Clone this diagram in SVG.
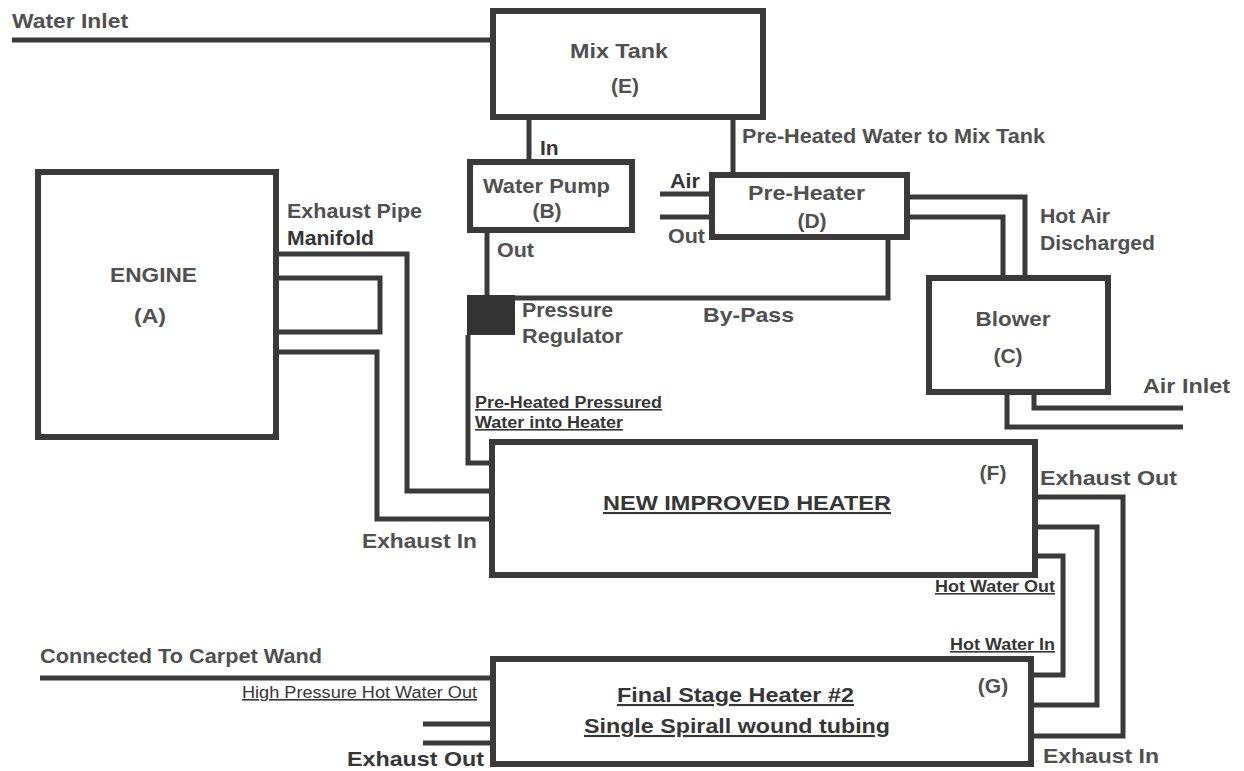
<svg xmlns="http://www.w3.org/2000/svg" width="1244" height="771" viewBox="0 0 1244 771">
<style>
.t{font-family:"Liberation Sans",Arial,sans-serif;font-weight:bold;font-size:21px;fill:#505050}
.d{fill:#363636}
.s{font-size:16px;text-decoration:underline}
.u{text-decoration:underline}
.n{font-weight:normal}
.m{text-anchor:middle}
.box{fill:#fff;stroke:#3a3a3a;stroke-width:6}
.pipe{fill:none;stroke:#3a3a3a;stroke-width:5}
</style>
<rect width="1244" height="771" fill="#fff"/>
<g id="connectors">
<path class="pipe" d="M12 40H493"/>
<path class="pipe" d="M529 117V162"/>
<path class="pipe" d="M733 117V175"/>
<path class="pipe" d="M660 194H712M660 217H712"/>
<path class="pipe" d="M907 197H1025V278M907 217H1003V278"/>
<path class="pipe" d="M1034 392V408H1183M1007 392V427H1183"/>
<path class="pipe" d="M487 230V295"/>
<path class="pipe" d="M515 298H888V237"/>
<path class="pipe" d="M468 335V463H492"/>
<path class="pipe" d="M276 254H407V491H492"/>
<path class="pipe" d="M276 278H380V332H276"/>
<path class="pipe" d="M276 352H377V519H492"/>
<path class="pipe" d="M1035 497H1123V736H1031M1035 527H1097V705H1031M1035 556H1063V675H1031"/>
<path class="pipe" d="M40 678H493"/>
<path class="pipe" d="M423 724H493M423 743H493"/>
</g>
<g id="mix-tank">
<rect class="box" x="493" y="11" width="270" height="106"/>
<text class="t" x="570" y="58" font-size="22" textLength="98" lengthAdjust="spacingAndGlyphs">Mix Tank</text>
<text class="t m" x="625" y="93" font-size="22">(E)</text>
</g>
<g id="water-pump">
<rect class="box" x="470" y="162" width="162" height="68"/>
<text class="t" x="483" y="193" textLength="127" lengthAdjust="spacingAndGlyphs">Water Pump</text>
<text class="t m" x="547" y="218">(B)</text>
</g>
<g id="pre-heater">
<rect class="box" x="712" y="175" width="195" height="62"/>
<text class="t" x="748" y="200" textLength="117" lengthAdjust="spacingAndGlyphs">Pre-Heater</text>
<text class="t m" x="812" y="228">(D)</text>
</g>
<g id="blower">
<rect class="box" x="929" y="278" width="179" height="114"/>
<text class="t m" x="1013" y="326" textLength="75" lengthAdjust="spacingAndGlyphs">Blower</text>
<text class="t m" x="1008" y="363">(C)</text>
</g>
<g id="engine">
<rect class="box" x="38" y="172" width="238" height="265"/>
<text class="t" x="110" y="282" textLength="87" lengthAdjust="spacingAndGlyphs">ENGINE</text>
<text class="t" x="134" y="323" textLength="32" lengthAdjust="spacingAndGlyphs">(A)</text>
</g>
<g id="pressure-regulator">
<rect x="467" y="295" width="48" height="40" fill="#333"/>
<text class="t" x="522" y="317" textLength="91" lengthAdjust="spacingAndGlyphs">Pressure</text>
<text class="t" x="522" y="343" textLength="101" lengthAdjust="spacingAndGlyphs">Regulator</text>
</g>
<g id="heater">
<rect class="box" x="492" y="442" width="543" height="133"/>
<text class="t d u" x="603" y="510" font-size="22" textLength="288" lengthAdjust="spacingAndGlyphs">NEW IMPROVED HEATER</text>
<text class="t m" x="993" y="480">(F)</text>
</g>
<g id="final-stage-heater">
<rect class="box" x="493" y="659" width="538" height="105"/>
<text class="t d u" x="617" y="702" textLength="237" lengthAdjust="spacingAndGlyphs">Final Stage Heater #2</text>
<text class="t d u" x="584" y="733" textLength="306" lengthAdjust="spacingAndGlyphs">Single Spirall wound tubing</text>
<text class="t m" x="993" y="693">(G)</text>
</g>
<g id="labels">
<text class="t" x="12" y="28" textLength="116" lengthAdjust="spacingAndGlyphs">Water Inlet</text>
<text class="t d" x="540" y="155" font-size="19">In</text>
<text class="t" x="497" y="257" textLength="37" lengthAdjust="spacingAndGlyphs">Out</text>
<text class="t" x="742" y="143" textLength="303" lengthAdjust="spacingAndGlyphs">Pre-Heated Water to Mix Tank</text>
<text class="t d" x="670" y="188" textLength="30" lengthAdjust="spacingAndGlyphs">Air</text>
<text class="t" x="668" y="243" textLength="37" lengthAdjust="spacingAndGlyphs">Out</text>
<text class="t" x="1040" y="223" textLength="70" lengthAdjust="spacingAndGlyphs">Hot Air</text>
<text class="t" x="1040" y="250" textLength="115" lengthAdjust="spacingAndGlyphs">Discharged</text>
<text class="t" x="1143" y="393" textLength="87" lengthAdjust="spacingAndGlyphs">Air Inlet</text>
<text class="t" x="287" y="218" textLength="135" lengthAdjust="spacingAndGlyphs">Exhaust Pipe</text>
<text class="t d" x="287" y="245" textLength="87" lengthAdjust="spacingAndGlyphs">Manifold</text>
<text class="t" x="362" y="548" textLength="115" lengthAdjust="spacingAndGlyphs">Exhaust In</text>
<text class="t" x="703" y="322" textLength="91" lengthAdjust="spacingAndGlyphs">By-Pass</text>
<text class="t d s" x="475" y="408" textLength="187" lengthAdjust="spacingAndGlyphs">Pre-Heated Pressured</text>
<text class="t d s" x="475" y="428" textLength="148" lengthAdjust="spacingAndGlyphs">Water into Heater</text>
<text class="t" x="1040" y="485" textLength="137" lengthAdjust="spacingAndGlyphs">Exhaust Out</text>
<text class="t d s" x="935" y="592" font-size="15" textLength="120" lengthAdjust="spacingAndGlyphs">Hot Water Out</text>
<text class="t d s" x="950" y="650" font-size="15" textLength="105" lengthAdjust="spacingAndGlyphs">Hot Water In</text>
<text class="t" x="1043" y="763" textLength="116" lengthAdjust="spacingAndGlyphs">Exhaust In</text>
<text class="t" x="40" y="663" textLength="282" lengthAdjust="spacingAndGlyphs">Connected To Carpet Wand</text>
<text class="t d s n" x="242" y="698" textLength="235" lengthAdjust="spacingAndGlyphs">High Pressure Hot Water Out</text>
<text class="t d" x="347" y="766" textLength="137" lengthAdjust="spacingAndGlyphs">Exhaust Out</text>
</g>
</svg>
